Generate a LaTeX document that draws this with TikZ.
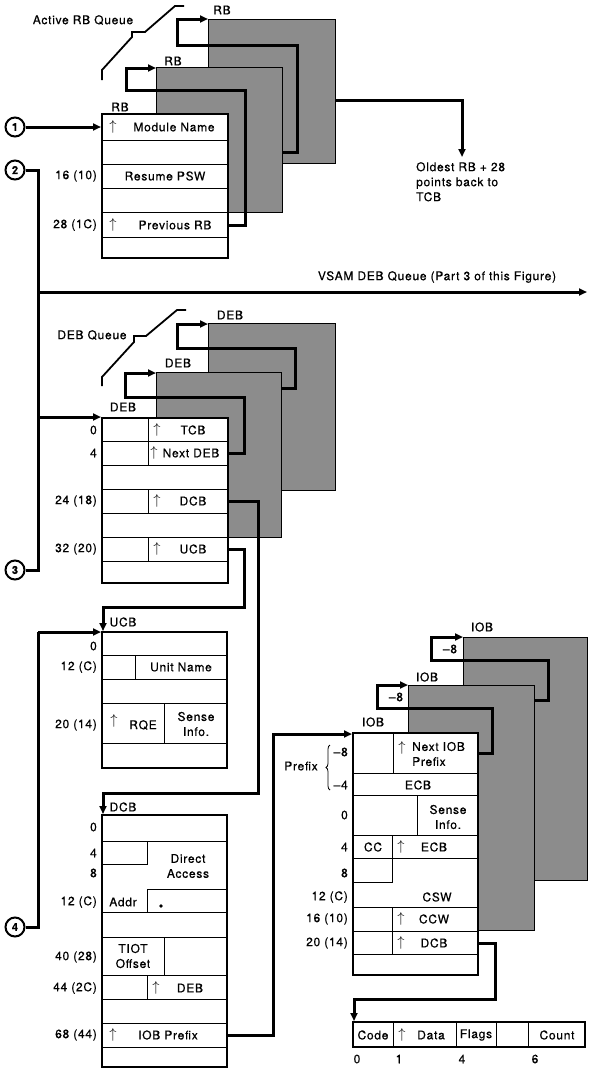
\documentclass[tikz,border=0pt]{standalone}
\usepackage{fontspec}
\setmainfont[LetterSpace=6, FakeBold=0.5]{TeX Gyre Heros}
\usetikzlibrary{arrows.meta,decorations.pathreplacing}

\newcommand{\up}{{\fontsize{14}{14}\selectfont$\uparrow$}}

\tikzset{
  blk/.style={draw, line width=1.8pt, fill=white},
  shd/.style={draw, line width=0.9pt, fill=black!45},
  fld/.style={line width=0.7pt},
  qbrk/.style={line width=1.8pt},
  lnk/.style={line width=3pt, -{Triangle[length=8pt,width=7pt]}},
  bus/.style={line width=3pt},
  off/.style={anchor=east, inner sep=1pt},
  txt/.style={inner sep=1pt},
  num/.style={circle, draw, line width=2pt, minimum size=19pt, inner sep=0pt,
    font=\bfseries\fontsize{11}{11}\selectfont},
}

\begin{document}
\begin{tikzpicture}[x=1pt, y=-1pt, font=\fontsize{12}{15}\selectfont]
\useasboundingbox (0,0) rectangle (589,1068);

%% RB queue
\node[txt] (rbq) at (83,20) {Active RB Queue};
\draw[qbrk] (102,80) -- (102,70) -- (132,37) -- (132,32) -- (145,32) -- (175,6) -- (184,6);
\draw[shd] (208,19) rectangle (335,163);
\draw[shd] (156,67) rectangle (282,212);
\draw[blk] (102,114) rectangle (228,258);
\foreach \y in {140,164,188,212,237} \draw[fld] (102,\y) -- (228,\y);

\node[txt] (rbl3) at (222,10) {RB};
\node[txt] (rbl2) at (173,61) {RB};
\node[txt] (rbl1) at (120,107) {RB};

\node[txt] (rbmodup) at (113,127) {\up};
\node[txt] (rbmod) at (174,127) {Module Name};
\node[txt] (rbpsw) at (165,176) {Resume PSW};
\node[txt] (rbprevup) at (113,225) {\up};
\node[txt] (rbprev) at (175,225) {Previous RB};
\node[off] (rbo16) at (98,176) {16 (10)};
\node[off] (rbo28) at (98,225) {28 (1C)};

\node[txt, align=left, anchor=north west] (rbold) at (415,161) {Oldest RB + 28\\points back to\\TCB};

\coordinate (rbprevE) at (228,225);
\coordinate (rb2W) at (156,68);
\coordinate (rb2E) at (282,152);
\coordinate (rb3W) at (208,19);
\coordinate (rb3E) at (335,100);
\coordinate (rbtip) at (462,157);
\draw[lnk] (rbprevE) -| (245,90) -| (126,68) -- (rb2W);
\draw[lnk] (rb2E) -| (297,45) -| (177,19) -- (rb3W);
\draw[lnk] (rb3E) -| (rbtip);

%% entry points
\node[num] (c1) at (15,127) {1};
\node[num] (c2) at (15,170) {2};
\node[num] (c3) at (15,570) {3};
\node[num] (c4) at (15,927) {4};
\coordinate (rbW) at (101,127);
\draw[lnk] (c1.east) -- (rbW);
\draw[bus] (c2.east) -| (38,570) -- (c3.east);

\node[txt] (vsamq) at (437,277) {VSAM DEB Queue (Part 3 of this Figure)};
\coordinate (vsamE) at (587,292);
\draw[lnk] (38,292) -- (vsamE);

%% DEB queue
\node[txt] (debq) at (92,335) {DEB Queue};
\draw[qbrk] (102,386) -- (102,377) -- (134,342) -- (134,336) -- (146,336) -- (177,310) -- (186,310);
\draw[shd] (208,323) rectangle (335,490);
\draw[shd] (156,372) rectangle (281,537);
\draw[blk] (102,418) rectangle (228,583);
\foreach \y in {441,465,489,513,537,561} \draw[fld] (102,\y) -- (228,\y);
\foreach \a/\b in {418/465,489/513,537/561} \draw[fld] (148,\a) -- (148,\b);

\node[txt] (debl3) at (230,315) {DEB};
\node[txt] (debl2) at (178,363) {DEB};
\node[txt] (debl1) at (123,407) {DEB};

\node[txt] (debtcbup) at (157,430) {\up};
\node[txt] (debtcb) at (193,430) {TCB};
\node[txt] (debnxtup) at (154,453) {\up};
\node[txt] (debnxt) at (191,453) {Next DEB};
\node[txt] (debdcbup) at (157,501) {\up};
\node[txt] (debdcb) at (193,501) {DCB};
\node[txt] (debucbup) at (157,549) {\up};
\node[txt] (debucb) at (193,549) {UCB};
\node[off] (debo0) at (98,430) {0};
\node[off] (debo4) at (98,453) {4};
\node[off] (debo24) at (98,501) {24 (18)};
\node[off] (debo32) at (98,549) {32 (20)};

\coordinate (debW) at (101,417);
\draw[lnk] (38,417) -- (debW);
\coordinate (debnxtE) at (228,453);
\coordinate (deb2W) at (156,373);
\coordinate (deb2E) at (281,388);
\coordinate (deb3W) at (208,324);
\draw[lnk] (debnxtE) -| (244,397) -| (125,373) -- (deb2W);
\draw[lnk] (deb2E) -| (295,348) -| (177,324) -- (deb3W);

%% UCB
\draw[blk] (102,632) rectangle (227,768);
\foreach \y in {655,679,703,743} \draw[fld] (102,\y) -- (227,\y);
\draw[fld] (135,655) -- (135,679);
\draw[fld] (164,703) -- (164,743);
\node[txt] (ucbl) at (123,622) {UCB};
\node[txt] (ucbunit) at (181,667) {Unit Name};
\node[txt] (ucbrqeup) at (114,721) {\up};
\node[txt] (ucbrqe) at (143,725) {RQE};
\node[txt, align=center] (ucbsense) at (196,724) {Sense\\Info.};
\node[off] (ucbo0) at (98,646) {0};
\node[off] (ucbo12) at (98,667) {12 (C)};
\node[off] (ucbo20) at (98,725) {20 (14)};

\coordinate (debucbE) at (228,549);
\coordinate (ucbN) at (103,631);
\coordinate (ucbW) at (101,632);
\draw[lnk] (debucbE) -| (244,607) -| (ucbN);
\draw[bus] (c4.east) -| (38,632);
\draw[lnk] (38,632) -- (ucbW);

%% DCB
\draw[blk] (102,815) rectangle (227,1067);
\foreach \y in {841,912,937,975,999,1023,1047} \draw[fld] (102,\y) -- (227,\y);
\draw[fld] (102,864) -- (147,864) -- (147,841);
\draw[fld] (227,889) -- (147,889) -- (147,912);
\draw[fld] (164,937) -- (164,975);
\draw[fld] (147,975) -- (147,999);
\fill (161,906) circle (1.8pt);
\node[txt] (dcbl) at (123,807) {DCB};
\node[txt, align=center] (dcbda) at (188,866) {Direct\\Access};
\node[txt] (dcbaddr) at (123,902) {Addr};
\node[txt, align=center] (dcbtiot) at (133,956) {TIOT\\Offset};
\node[txt] (dcbdebup) at (156,988) {\up};
\node[txt] (dcbdeb) at (190,988) {DEB};
\node[txt] (dcbiobup) at (113,1035) {\up};
\node[txt] (dcbiob) at (168,1035) {IOB Prefix};
\node[off] (dcbo0) at (98,827) {0};
\node[off] (dcbo4) at (98,853) {4};
\node[off] (dcbo8) at (98,873) {8};
\node[off] (dcbo12) at (98,902) {12 (C)};
\node[off] (dcbo40) at (98,957) {40 (28)};
\node[off] (dcbo44) at (98,988) {44 (2C)};
\node[off] (dcbo68) at (98,1035) {68 (44)};

\coordinate (debdcbE) at (228,501);
\coordinate (dcbN) at (103,814);
\draw[lnk] (debdcbE) -| (258,793) -| (dcbN);

%% IOB
\draw[shd] (463,637) rectangle (587,880);
\draw[shd] (408,685) rectangle (534,930);
\draw[blk] (353,733) rectangle (478,975);
\foreach \y in {773,795,835,858,907,931,954} \draw[fld] (353,\y) -- (478,\y);
\draw[fld] (393,733) -- (393,773);
\draw[fld] (417,795) -- (417,835);
\draw[fld] (392,835) -- (392,882) -- (353,882);
\draw[fld] (392,907) -- (392,954);

\node[txt] (iobl3) at (482,627) {IOB};
\node[txt] (iobl2) at (427,677) {IOB};
\node[txt] (iobl1) at (373,722) {IOB};
\node[txt] (iobm3) at (450,649) {\textendash 8};
\node[txt] (iobm2) at (396,697) {\textendash 8};

\node[txt] (iobnxtup) at (402,748) {\up};
\node[txt, align=left, anchor=west] (iobnxt) at (411,754) {Next IOB\\Prefix};
\node[txt] (iobecb1) at (418,785) {ECB};
\node[txt, align=center] (iobsense) at (448,817) {Sense\\Info.};
\node[txt] (iobcc) at (373,847) {CC};
\node[txt] (iobecbup) at (401,847) {\up};
\node[txt] (iobecb2) at (434,847) {ECB};
\node[txt] (iobcsw) at (437,897) {CSW};
\node[txt] (iobccwup) at (401,919) {\up};
\node[txt] (iobccw) at (434,919) {CCW};
\node[txt] (iobdcbup) at (401,943) {\up};
\node[txt] (iobdcb) at (434,943) {DCB};

\node[off] (iobom8) at (349,752) {\textendash 8};
\node[off] (iobom4) at (349,785) {\textendash 4};
\draw[decorate, decoration={brace, amplitude=4pt}, line width=0.8pt] (330,790) -- (330,745);
\node[txt] (iobpfx) at (301,766) {Prefix};
\node[off] (iobo0) at (349,815) {0};
\node[off] (iobo4) at (349,847) {4};
\node[off] (iobo8) at (349,873) {8};
\node[off] (iobo12) at (349,897) {12 (C)};
\node[off] (iobo16) at (349,919) {16 (10)};
\node[off] (iobo20) at (349,943) {20 (14)};

\coordinate (dcbiobE) at (227,1035);
\coordinate (iobW) at (352,734);
\draw[lnk] (dcbiobE) -| (273,734) -- (iobW);
\coordinate (iobnxtE) at (478,753);
\coordinate (iob2W) at (408,685);
\coordinate (iob2E) at (534,700);
\coordinate (iob3W) at (463,637);
\draw[lnk] (iobnxtE) -| (492,708) -| (377,685) -- (iob2W);
\draw[lnk] (iob2E) -| (548,660) -| (431,637) -- (iob3W);

%% CCW
\draw[blk] (353,1022) rectangle (585,1047);
\foreach \x in {393,456,496,528} \draw[fld] (\x,1022) -- (\x,1047);
\node[txt] (ccwcode) at (373,1035) {Code};
\node[txt] (ccwdataup) at (402,1035) {\up};
\node[txt] (ccwdata) at (431,1035) {Data};
\node[txt] (ccwflags) at (476,1035) {Flags};
\node[txt] (ccwcount) at (557,1035) {Count};
\node[txt] (ccwo0) at (357,1059) {0};
\node[txt] (ccwo1) at (399,1059) {1};
\node[txt] (ccwo4) at (462,1059) {4};
\node[txt] (ccwo6) at (535,1059) {6};

\coordinate (iobdcbE) at (478,943);
\coordinate (ccwN) at (354,1021);
\draw[lnk] (iobdcbE) -| (495,999) -| (ccwN);
\end{tikzpicture}
\end{document}
